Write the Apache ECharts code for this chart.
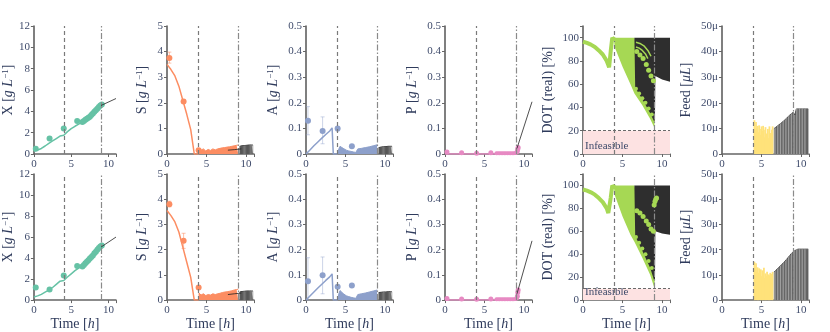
<!DOCTYPE html>
<html>
<head>
<meta charset="utf-8">
<script src="https://cdn.jsdelivr.net/npm/echarts@6.0.0/dist/echarts.min.js"></script>
<style>
html, body { margin: 0; padding: 0; background: #fff; }
#chart { width: 830px; height: 332px; }
</style>
</head>
<body>
<div id="chart"></div>
<script>
// ---- data (row 1 = top, row 2 = bottom) ----
const measT = [0.25, 2.1, 4.0, 5.8];
const denseT = [6.5, 6.7, 6.9, 7.1, 7.3, 7.5, 7.7, 7.9, 8.1, 8.3, 8.5, 8.7, 8.9, 9.1];
const modelT = [0, 0.5, 1, 1.5, 2, 2.5, 3, 3.5, 4, 4.5, 5, 5.5, 6, 6.5, 7, 7.5, 8, 8.5, 9];
const predT = [9, 11];

// biomass X
const xMeas1 = [0.5, 1.45, 2.4, 3.1];
const xMeas2 = [1.2, 1.0, 2.35, 3.25];
const xDense1 = [3.0, 3.1, 3.2, 3.3, 3.4, 3.5, 3.65, 3.8, 3.95, 4.1, 4.25, 4.4, 4.55, 4.65];
const xDense2 = [3.2, 3.35, 3.5, 3.65, 3.8, 3.95, 4.1, 4.25, 4.45, 4.6, 4.8, 4.95, 5.1, 5.2];
const xModel1 = [0.28, 0.38, 0.52, 0.75, 1.0, 1.22, 1.45, 1.68, 1.76, 2.1, 2.38, 2.6, 2.8, 3.0, 3.2, 3.45, 3.75, 4.1, 4.55];
const xModel2 = [0.3, 0.4, 0.55, 0.75, 0.95, 1.2, 1.5, 1.8, 1.87, 2.2, 2.5, 2.8, 3.05, 3.3, 3.55, 3.85, 4.2, 4.6, 5.05];
const xPred1 = [4.55, 5.2];
const xPred2 = [5.05, 6.0];

// substrate S
const sMeasT = [0.3, 2.1, 4.0];
const sMeas1 = [3.75, 2.05, 0.15];
const sMeas2 = [3.8, 2.35, 0.5];
const sLo1 = [3.55, 2.0, 0.15];
const sHi1 = [3.98, 2.1, 0.15];
const sLo2 = [3.7, 2.05, 0.5];
const sHi2 = [3.92, 2.65, 0.5];
const sModelT = [0, 0.5, 1, 1.5, 2, 2.5, 3, 3.45, 4];
const sModel1 = [3.5, 3.3, 3.05, 2.65, 2.1, 1.55, 0.95, 0, 0];
const sModel2 = [3.55, 3.35, 3.1, 2.7, 2.1, 1.5, 0.9, 0, 0];
const fedT = [4.0, 4.3, 4.6, 4.9, 5.2, 5.5, 5.8, 6.1, 6.4, 6.7, 7.0, 7.3, 7.6, 7.9, 8.2, 8.5, 8.8, 9.0];
const sFed1 = [0.22, 0.15, 0.2, 0.12, 0.18, 0.14, 0.2, 0.16, 0.2, 0.22, 0.24, 0.25, 0.27, 0.28, 0.3, 0.32, 0.34, 0.35];
const sFed2 = [0.3, 0.2, 0.25, 0.18, 0.22, 0.2, 0.25, 0.22, 0.25, 0.27, 0.3, 0.32, 0.33, 0.35, 0.37, 0.4, 0.42, 0.43];
const sTailT = [7.7, 8.5, 9.4];
const sTail1 = [0.15, 0.17, 0.2];
const sTail2 = [0.22, 0.25, 0.28];
const hatchT = [9.2, 9.35, 9.5, 9.65, 9.8, 9.95, 10.1, 10.25, 10.4, 10.55, 10.7, 10.85];
const sHatch1 = [0.3, 0.31, 0.32, 0.33, 0.33, 0.34, 0.34, 0.34, 0.35, 0.35, 0.35, 0.35];
const sHatch2 = [0.32, 0.33, 0.34, 0.35, 0.35, 0.35, 0.36, 0.36, 0.36, 0.36, 0.36, 0.36];

// acetate A
const aMeas1 = [0.13, 0.09, 0.1, 0.03];
const aMeas2 = [0.075, 0.099, 0.053, 0.058];
const aLo1 = [0.075, 0.04, 0.09, 0.03];
const aHi1 = [0.185, 0.145, 0.105, 0.03];
const aLo2 = [0.0, 0.025, 0.053, 0.058];
const aHi2 = [0.168, 0.171, 0.053, 0.058];
const aModelT = [0, 0.5, 1, 1.5, 2, 2.5, 3, 3.3, 3.45, 4];
const aModel1 = [0, 0.016, 0.032, 0.047, 0.062, 0.076, 0.09, 0.102, 0, 0];
const aModel2 = [0, 0.016, 0.032, 0.048, 0.063, 0.078, 0.092, 0.104, 0, 0];
const aFedT = [4.0, 4.15, 4.3, 4.5, 4.7, 4.9, 5.1, 5.4, 5.7, 6.0, 6.3, 6.45, 6.55, 7.0, 7.5, 8.0, 8.5, 9.0];
const aFed1 = [0.0, 0.02, 0.03, 0.027, 0.022, 0.018, 0.015, 0.012, 0.01, 0.008, 0.006, 0.006, 0.02, 0.022, 0.025, 0.028, 0.032, 0.036];
const aFed2 = [0.0, 0.025, 0.038, 0.032, 0.026, 0.021, 0.017, 0.014, 0.011, 0.009, 0.007, 0.007, 0.022, 0.025, 0.028, 0.032, 0.036, 0.04];
const aHatch1 = [0.025, 0.026, 0.027, 0.028, 0.028, 0.029, 0.029, 0.03, 0.03, 0.03, 0.03, 0.03];
const aHatch2 = [0.03, 0.03, 0.031, 0.031, 0.032, 0.032, 0.032, 0.033, 0.033, 0.033, 0.033, 0.033];

// product P
const pMeas1 = [0.008, 0.005, 0.003, 0.005];
const pMeas2 = [0.006, 0.004, 0.003, 0.004];
const pDense = [0.003, 0.003, 0.003, 0.003, 0.003, 0.003, 0.003, 0.003, 0.003, 0.003, 0.003, 0.003, 0.004, 0.006];
const pModel = [0, 0, 0, 0, 0, 0, 0, 0, 0, 0, 0, 0, 0, 0, 0, 0, 0, 0, 0];
const pEndT = [9.15, 9.2, 9.25];
const pEnd1 = [0.012, 0.02, 0.025];
const pEnd2 = [0.015, 0.03, 0.04];
const pPredT = [9.1, 11];
const pPred1 = [0.022, 0.204];
const pPred2 = [0.025, 0.235];

// dissolved oxygen
const dotModelT = [0, 0.5, 1, 1.5, 2, 2.5, 3, 3.2, 3.3, 3.5, 3.7, 3.9, 4.1];
const dotModel1 = [96.5, 95.5, 94, 92, 89, 85.5, 80, 76.5, 74.5, 88, 100, 98, 100];
const dotModel2 = [96.5, 95.5, 94, 92, 89, 85.5, 80, 76, 75.5, 89, 100, 98, 100];
const dotGreenX = [3.9, 6.5, 9.1, 9.0, 8.5, 7.5, 6.5, 6.0, 5.0, 4.0];
const dotGreenY1 = [100, 100, 30, 23, 30, 42, 52, 60, 75, 92];
const dotGreenY2 = [100, 100, 20, 11, 22, 37, 51, 57, 73, 92];
const dotBlackX = [6.5, 11, 11, 10, 9.15, 9.1, 9.0, 8.5, 7.5, 6.6];
const dotBlackY1 = [100, 100, 62, 64, 67, 30, 28, 35, 47, 57];
const dotBlackY2 = [100, 100, 57, 58, 60, 18, 17, 28, 43, 56];
const dotChainX = [6.8, 7.2, 7.6, 8.0, 8.3, 8.6, 8.9];
const dotChainY1 = [88, 85, 82, 77, 72, 67, 63];
const dotChainY2 = [78, 76, 73, 69, 66, 62, 60];
const dotEdgeX = [6.7, 7.1, 7.5, 7.9, 8.3, 8.7];
const dotEdgeY1 = [56, 52, 48, 44, 39, 34];
const dotEdgeY2 = [55, 50, 45, 40, 34, 28];
const dotArcX = [6.7, 7.2, 7.7, 8.2, 8.6];
const dotArcY1 = [96, 95, 93, 89, 84];
const dotArc2X = [6.7, 7.1, 7.5, 7.9, 8.2];
const dotArc2Y1 = [92, 91, 89, 86, 82];
const dotBlobX = [9.0, 9.1, 9.2, 9.3];
const dotBlobY2 = [83, 86, 88, 89];
const infeasLim = [20, 10];

// feed
const yellowT = [4.1, 4.2, 4.3, 4.4, 4.5, 4.6, 4.7, 4.8, 4.9, 5.0, 5.1, 5.2, 5.3, 5.4, 5.5, 5.6, 5.7, 5.8, 5.9, 6.0, 6.1, 6.2, 6.3, 6.4];
const feedY1 = [13.2, 9.5, 12.5, 10, 11, 8.5, 11.2, 9.8, 7.5, 10.8, 9, 11, 9.5, 6.5, 10.5, 8, 5.5, 9.8, 6.2, 10.8, 8.2, 5.8, 9.5, 10.8];
const feedY2 = [15.2, 12.5, 14.6, 11.2, 13, 10.8, 12.6, 11.4, 12.2, 9.5, 11.8, 10.2, 12.8, 8.8, 10.6, 9.6, 11.2, 8.4, 10.2, 9.8, 10.8, 9.2, 10.4, 11.2];
const greyT = [6.6, 6.8, 7.0, 7.2, 7.4, 7.6, 7.8, 8.0, 8.2, 8.4, 8.6, 8.8, 9.0, 9.2, 9.4, 9.6, 9.8, 10.0, 10.2, 10.4, 10.6, 10.9];
const feedG1 = [10, 10.4, 10.9, 11.4, 11.9, 12.4, 12.9, 13.5, 14.1, 14.7, 15.3, 15.9, 16.3, 15.2, 17.6, 17.6, 17.6, 17.6, 17.6, 17.6, 17.6, 17.6];
const feedG2 = [11.2, 11.8, 12.4, 13.0, 13.6, 14.2, 14.9, 15.6, 16.3, 17.0, 17.8, 18.6, 19.3, 19.6, 20.2, 20.2, 20.2, 20.2, 20.2, 20.2, 20.2, 20.2];

// ---- layout ----
const FONT = "'Liberation Serif', 'DejaVu Serif', serif";
const INK = '#3f4b6b';
const NAVY = '#2f3b5c';
const cX = '#66c2a5', cS = '#fc8d62', cA = '#8da0cb', cP = '#e78ac3', cD = '#a6d854';
const colLeft = [29, 167, 306, 445, 583, 722];
const rowTop = [26, 174];
const rowH = [128, 127];
const yMax = [12, 5, 0.5, 0.5, 110, 50];
const yStep = [2, 1, 0.1, 0.1, 20, 10];
const yNames = ['X [{i|g L}{s|−1}]', 'S [{i|g L}{s|−1}]', 'A [{i|g L}{s|−1}]', 'P [{i|g L}{s|−1}]', 'DOT (real) [%]', 'Feed [{i|μL}]'];
const yGap = [15, 18, 26, 26, 28, 29];

const nameStyle = {
  fontFamily: FONT, fontSize: 14, color: NAVY,
  rich: {
    i: { fontFamily: FONT, fontSize: 14, fontStyle: 'italic', color: NAVY },
    s: { fontFamily: FONT, fontSize: 9, color: NAVY, verticalAlign: 'top' }
  }
};

function zip(t, v) { return t.map((x, i) => [x, v[i]]); }

function lineS(idx, t, v, color, width, z) {
  return { type: 'line', xAxisIndex: idx, yAxisIndex: idx, data: zip(t, v), symbol: 'none',
    lineStyle: { color: color, width: width }, z: z, silent: true };
}
function areaS(idx, t, v, color, z) {
  return { type: 'line', xAxisIndex: idx, yAxisIndex: idx, data: zip(t, v), symbol: 'none',
    lineStyle: { color: color, width: 1 }, areaStyle: { color: color, opacity: 1 }, z: z, silent: true };
}
function dotS(idx, t, v, color, size, z) {
  return { type: 'scatter', xAxisIndex: idx, yAxisIndex: idx, data: zip(t, v), symbolSize: size,
    itemStyle: { color: color, opacity: 1 }, z: z, silent: true };
}
function stripeS(idx, t, v, color, w, z) {
  return { type: 'custom', xAxisIndex: idx, yAxisIndex: idx, z: z, silent: true, data: zip(t, v),
    renderItem: function (p, api) {
      const top = api.coord([api.value(0), api.value(1)]);
      const bot = api.coord([api.value(0), 0]);
      return { type: 'rect', shape: { x: top[0] - w / 2, y: top[1], width: w, height: bot[1] - top[1] }, style: { fill: color } };
    } };
}
function polyS(idx, xs, ys, fill, z) {
  return { type: 'custom', xAxisIndex: idx, yAxisIndex: idx, z: z, silent: true, data: [[xs[0], ys[0]]],
    renderItem: function (p, api) {
      const pts = xs.map((x, i) => api.coord([x, ys[i]]));
      return { type: 'polygon', shape: { points: pts }, style: { fill: fill } };
    } };
}
function errS(idx, t, lo, hi, color) {
  return { type: 'custom', xAxisIndex: idx, yAxisIndex: idx, z: 3, silent: true,
    data: t.map((x, i) => [x, lo[i], hi[i]]),
    renderItem: function (p, api) {
      const a = api.coord([api.value(0), api.value(1)]);
      const b = api.coord([api.value(0), api.value(2)]);
      const st = { stroke: color, lineWidth: 1 };
      return { type: 'group', children: [
        { type: 'line', shape: { x1: a[0], y1: a[1], x2: b[0], y2: b[1] }, style: st },
        { type: 'line', shape: { x1: a[0] - 2, y1: a[1], x2: a[0] + 2, y2: a[1] }, style: st },
        { type: 'line', shape: { x1: b[0] - 2, y1: b[1], x2: b[0] + 2, y2: b[1] }, style: st }
      ] };
    } };
}
function guideS(idx) {
  return { type: 'line', xAxisIndex: idx, yAxisIndex: idx, data: [], z: 10, silent: true,
    markLine: { silent: true, symbol: 'none', label: { show: false }, animation: false,
      data: [
        { xAxis: 4, lineStyle: { color: '#7a7a7a', width: 1.2, type: [4, 3] } },
        { xAxis: 9, lineStyle: { color: '#8a8a8a', width: 1.2, type: [6, 2, 1.5, 2] } }
      ] } };
}
function infeasS(idx, lim) {
  return { type: 'line', xAxisIndex: idx, yAxisIndex: idx, data: [], z: 1, silent: true,
    markArea: { silent: true, itemStyle: { color: '#fde2e2' },
      label: { show: true, position: 'insideBottomLeft', distance: 2, color: INK, fontFamily: FONT, fontSize: 11 },
      data: [[{ yAxis: 0, name: 'Infeasible' }, { yAxis: lim }]] },
    markLine: { silent: true, symbol: 'none', label: { show: false },
      data: [{ yAxis: lim, lineStyle: { color: '#6a6a6a', width: 1, type: [3, 2] } }] } };
}

const grids = [], xAxes = [], yAxes = [], series = [];
for (let r = 0; r < 2; r++) {
  for (let c = 0; c < 6; c++) {
    const idx = r * 6 + c;
    grids.push({ left: colLeft[c], top: rowTop[r], width: 87, height: rowH[r] });
    xAxes.push({
      type: 'value', gridIndex: idx, min: 0, max: 11, interval: 5,
      axisLine: { lineStyle: { color: '#666', width: 1.5 } },
      axisTick: { show: true, length: 3, lineStyle: { color: '#666' } },
      splitLine: { show: false },
      axisLabel: { fontFamily: FONT, fontSize: 11, color: INK, margin: 5,
        formatter: v => (v % 5 === 0 ? String(v) : '') },
      name: r === 1 ? 'Time [{i|h}]' : '', nameLocation: 'middle', nameGap: 16, nameTextStyle: nameStyle
    });
    yAxes.push({
      type: 'value', gridIndex: idx, min: 0, max: yMax[c], interval: yStep[c],
      axisLine: { show: true, lineStyle: { color: '#555', width: 1.5 } },
      axisTick: { show: true, length: 3, lineStyle: { color: '#666' } },
      splitLine: { show: false },
      axisLabel: { fontFamily: FONT, fontSize: 11, color: INK, margin: 4,
        formatter: v => {
          if (c === 4 && v > 100) return '';
          if (c === 5) return v === 0 ? '0' : v + 'μ';
          return String(v);
        } },
      name: yNames[c], nameLocation: 'middle', nameRotate: 90, nameGap: yGap[c], nameTextStyle: nameStyle
    });
    series.push(guideS(idx));
  }

  const b = r * 6;
  // X
  series.push(lineS(b, modelT, [xModel1, xModel2][r], cX, 1.5, 3));
  series.push(dotS(b, measT, [xMeas1, xMeas2][r], cX, 6, 4));
  series.push(dotS(b, denseT, [xDense1, xDense2][r], cX, 6, 4));
  series.push(lineS(b, predT, [xPred1, xPred2][r], '#222', 0.8, 5));

  // S
  series.push(areaS(b + 1, fedT, [sFed1, sFed2][r], cS, 2));
  series.push(lineS(b + 1, sModelT, [sModel1, sModel2][r], cS, 1.5, 3));
  series.push(errS(b + 1, sMeasT, [sLo1, sLo2][r], [sHi1, sHi2][r], 'rgba(252,141,98,0.55)'));
  series.push(dotS(b + 1, sMeasT, [sMeas1, sMeas2][r], cS, 6, 4));
  series.push(areaS(b + 1, hatchT, [sHatch1, sHatch2][r], '#1e1e1e', 4));
  series.push(stripeS(b + 1, hatchT, [sHatch1, sHatch2][r], '#8a8a8a', 0.8, 5));
  series.push(lineS(b + 1, sTailT, [sTail1, sTail2][r], '#222', 0.8, 6));

  // A
  series.push(areaS(b + 2, aFedT, [aFed1, aFed2][r], cA, 2));
  series.push(lineS(b + 2, aModelT, [aModel1, aModel2][r], cA, 1.5, 3));
  series.push(errS(b + 2, measT, [aLo1, aLo2][r], [aHi1, aHi2][r], 'rgba(141,160,203,0.45)'));
  series.push(dotS(b + 2, measT, [aMeas1, aMeas2][r], cA, 6, 4));
  series.push(areaS(b + 2, hatchT, [aHatch1, aHatch2][r], '#1e1e1e', 4));
  series.push(stripeS(b + 2, hatchT, [aHatch1, aHatch2][r], '#8a8a8a', 0.8, 5));

  // P
  series.push(lineS(b + 3, modelT, pModel, cP, 1.5, 3));
  series.push(dotS(b + 3, measT, [pMeas1, pMeas2][r], cP, 5, 4));
  series.push(dotS(b + 3, denseT, pDense, cP, 4, 4));
  series.push(dotS(b + 3, pEndT, [pEnd1, pEnd2][r], cP, 5, 4));
  series.push(lineS(b + 3, pPredT, [pPred1, pPred2][r], '#222', 0.8, 5));

  // DOT
  series.push(infeasS(b + 4, infeasLim[r]));
  series.push(polyS(b + 4, dotGreenX, [dotGreenY1, dotGreenY2][r], cD, 2));
  series.push(polyS(b + 4, dotBlackX, [dotBlackY1, dotBlackY2][r], '#2e2e2e', 3));
  series.push(lineS(b + 4, dotModelT, [dotModel1, dotModel2][r], cD, 4, 5));
  series.push(dotS(b + 4, dotChainX, [dotChainY1, dotChainY2][r], cD, 5, 6));
  series.push(dotS(b + 4, dotEdgeX, [dotEdgeY1, dotEdgeY2][r], cD, 4, 6));
  if (r === 0) {
    series.push(lineS(b + 4, dotArcX, dotArcY1, cD, 1.5, 6));
    series.push(lineS(b + 4, dotArc2X, dotArc2Y1, cD, 1.5, 6));
  } else {
    series.push(dotS(b + 4, dotBlobX, dotBlobY2, cD, 5, 6));
  }

  // Feed
  series.push(stripeS(b + 5, yellowT, [feedY1, feedY2][r], '#ffe27a', 1.8, 3));
  series.push(areaS(b + 5, greyT, [feedG1, feedG2][r], '#4a4a4a', 3));
  series.push(stripeS(b + 5, greyT, [feedG1, feedG2][r], '#a8a8a8', 0.9, 4));
}

const chart = echarts.init(document.getElementById('chart'));
chart.setOption({
  animation: false,
  backgroundColor: '#fff',
  grid: grids,
  xAxis: xAxes,
  yAxis: yAxes,
  series: series
});
</script>
</body>
</html>
